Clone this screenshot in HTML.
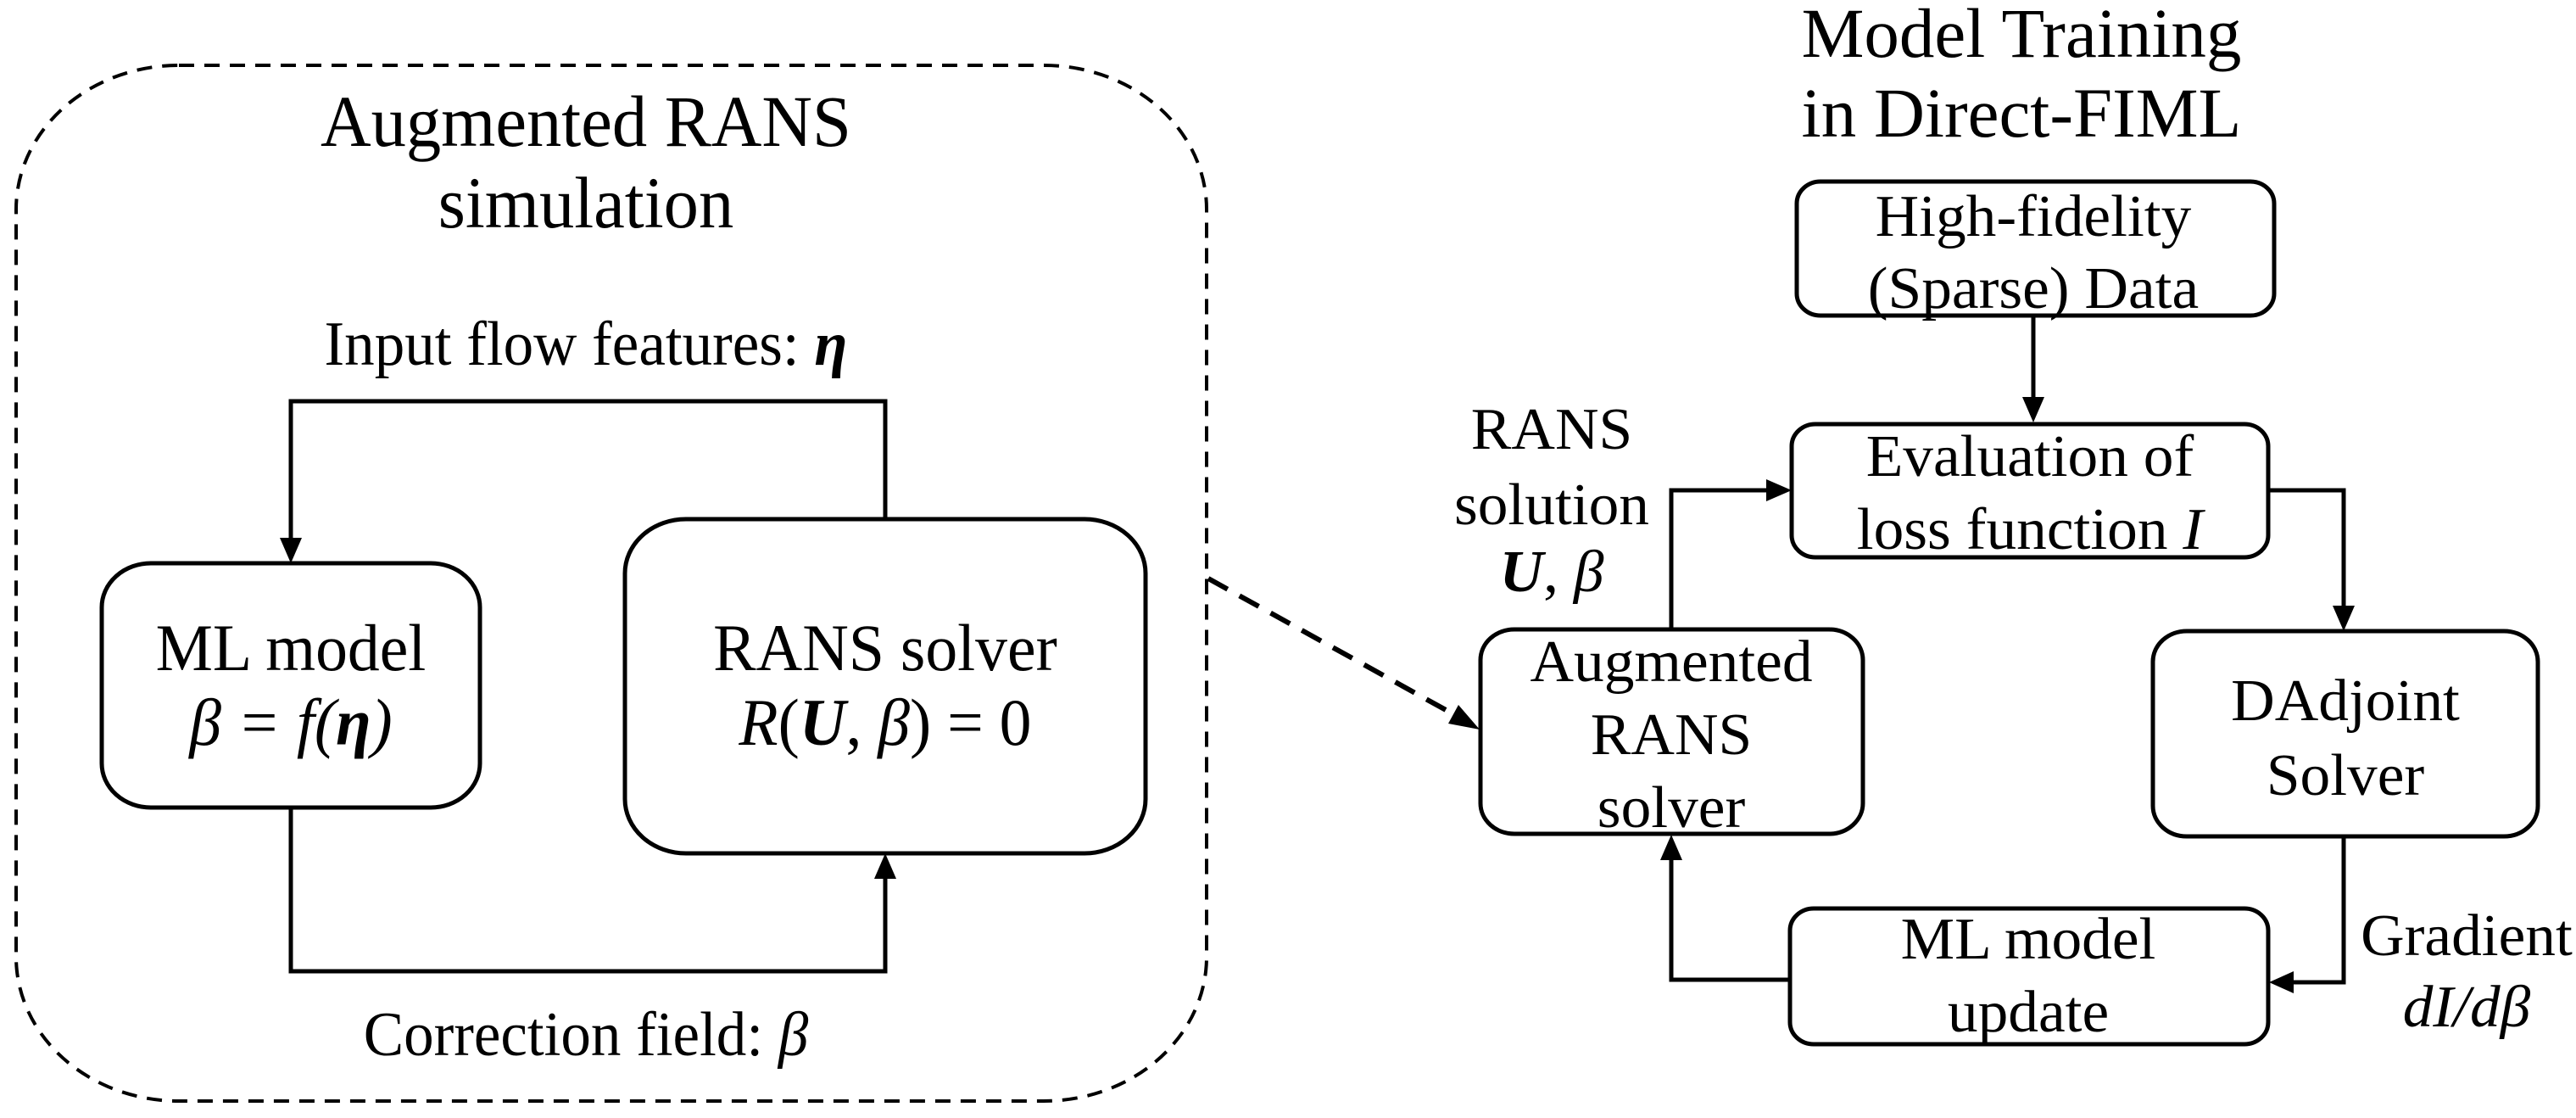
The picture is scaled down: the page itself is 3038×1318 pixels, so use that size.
<!DOCTYPE html>
<html><head><meta charset="utf-8"><style>
html,body{margin:0;padding:0;background:#fff;}
svg{display:block;}
text{font-family:"Liberation Serif","DejaVu Serif",serif;fill:#000;}
.m{font-style:italic;}
</style></head><body>
<svg width="3038" height="1318" viewBox="0 0 3038 1318" xmlns="http://www.w3.org/2000/svg">
<!-- Left dashed container -->
<rect x="19" y="77" width="1404" height="1221" rx="192" ry="170" fill="none" stroke="#000" stroke-width="4" stroke-dasharray="18,12"/>
<g transform="matrix(0.96 0 0 1 27.6 0)">
<text x="691" y="172" font-size="86" text-anchor="middle">Augmented RANS</text>
<text x="691" y="268" font-size="86" text-anchor="middle">simulation</text>
<text x="691" y="430" font-size="74" text-anchor="middle">Input flow features: <tspan font-weight="bold" class="m">η</tspan></text>
<text x="691" y="1244" font-size="74" text-anchor="middle">Correction field: <tspan class="m">β</tspan></text>
</g>

<!-- top connector -->
<polyline points="1044,612 1044,473 343,473 343,636" fill="none" stroke="#000" stroke-width="5"/>
<polygon points="330,634 356,634 343,664" fill="#000"/>
<!-- ML box -->
<rect x="120" y="664" width="446" height="288" rx="58" ry="52" fill="#fff" stroke="#000" stroke-width="5"/>
<g transform="matrix(0.97 0 0 1 10.3 0)">
<text x="343" y="790" font-size="78" text-anchor="middle">ML model</text>
<text x="343" y="878" font-size="78" text-anchor="middle" class="m">β = f(<tspan font-weight="bold">η</tspan>)</text>
</g>
<!-- RANS box -->
<rect x="737" y="612" width="614" height="394" rx="72" ry="64" fill="#fff" stroke="#000" stroke-width="5"/>
<g transform="matrix(0.97 0 0 1 31.3 0)">
<text x="1044" y="790" font-size="78" text-anchor="middle">RANS solver</text>
<text x="1044" y="878" font-size="78" text-anchor="middle"><tspan class="m">R</tspan>(<tspan class="m" font-weight="bold">U</tspan>, <tspan class="m">β</tspan>) = 0</text>
</g>
<!-- bottom connector -->
<polyline points="343,952 343,1145 1044,1145 1044,1034" fill="none" stroke="#000" stroke-width="5"/>
<polygon points="1031,1036 1057,1036 1044,1006" fill="#000"/>

<!-- dashed arrow -->
<line x1="1425" y1="682" x2="1716" y2="843" stroke="#000" stroke-width="6" stroke-dasharray="26,16"/>
<polygon points="1745,860 1708,853 1720,831" fill="#000"/>

<!-- Right panel -->
<g transform="matrix(1.0 0 0 1 0 0)">
<text x="2384" y="67" font-size="83" text-anchor="middle">Model Training</text>
<text x="2384" y="161" font-size="83" text-anchor="middle">in Direct-FIML</text>
</g>

<rect x="2119" y="214" width="563" height="158" rx="28" ry="26" fill="#fff" stroke="#000" stroke-width="5"/>
<g transform="matrix(1.02 0 0 1 -48 0)">
<text x="2398" y="278" font-size="70" text-anchor="middle">High-fidelity</text>
<text x="2398" y="363" font-size="70" text-anchor="middle">(Sparse) Data</text>
</g>
<line x1="2398" y1="372" x2="2398" y2="470" stroke="#000" stroke-width="5"/>
<polygon points="2385,468 2411,468 2398,498" fill="#000"/>

<rect x="2113" y="500" width="562" height="157" rx="28" ry="26" fill="#fff" stroke="#000" stroke-width="5"/>
<g transform="matrix(1.02 0 0 1 -47.9 0)">
<text x="2394" y="561" font-size="70" text-anchor="middle">Evaluation of</text>
<text x="2394" y="647" font-size="70" text-anchor="middle">loss function <tspan class="m">I</tspan></text>
</g>

<polyline points="1971,742 1971,578 2085,578" fill="none" stroke="#000" stroke-width="5"/>
<polygon points="2083,565 2083,591 2113,578" fill="#000"/>

<polyline points="2675,578 2764,578 2764,716" fill="none" stroke="#000" stroke-width="5"/>
<polygon points="2751,714 2777,714 2764,744" fill="#000"/>

<rect x="2539" y="744" width="454" height="242" rx="40" ry="36" fill="#fff" stroke="#000" stroke-width="5"/>
<g transform="matrix(1.02 0 0 1 -55.3 0)">
<text x="2766" y="849" font-size="70" text-anchor="middle">DAdjoint</text>
<text x="2766" y="937" font-size="70" text-anchor="middle">Solver</text>
</g>

<polyline points="2764,986 2764,1158 2703,1158" fill="none" stroke="#000" stroke-width="5"/>
<polygon points="2705,1145 2705,1171 2676,1158" fill="#000"/>

<rect x="2111" y="1071" width="564" height="160" rx="28" ry="26" fill="#fff" stroke="#000" stroke-width="5"/>
<g transform="matrix(1.02 0 0 1 -47.8 0)">
<text x="2392" y="1130" font-size="70" text-anchor="middle">ML model</text>
<text x="2392" y="1216" font-size="70" text-anchor="middle">update</text>
</g>

<polyline points="2111,1155 1971,1155 1971,1012" fill="none" stroke="#000" stroke-width="5"/>
<polygon points="1958,1014 1984,1014 1971,984" fill="#000"/>

<rect x="1746" y="742" width="451" height="241" rx="40" ry="36" fill="#fff" stroke="#000" stroke-width="5"/>
<g transform="matrix(1.02 0 0 1 -39.4 0)">
<text x="1971" y="803" font-size="70" text-anchor="middle">Augmented</text>
<text x="1971" y="889" font-size="70" text-anchor="middle">RANS</text>
<text x="1971" y="975" font-size="70" text-anchor="middle">solver</text>
</g>

<g transform="matrix(1.02 0 0 1 -36.6 0)">
<text x="1830" y="529" font-size="70" text-anchor="middle">RANS</text>
<text x="1830" y="618" font-size="70" text-anchor="middle">solution</text>
<text x="1830" y="697" font-size="70" text-anchor="middle"><tspan class="m" font-weight="bold">U</tspan>, <tspan class="m">β</tspan></text>
</g>

<g transform="matrix(1.02 0 0 1 -58.2 0)">
<text x="2909" y="1126" font-size="70" text-anchor="middle">Gradient</text>
<text x="2909" y="1210" font-size="70" text-anchor="middle" class="m">dI/dβ</text>
</g>
</svg>
</body></html>
